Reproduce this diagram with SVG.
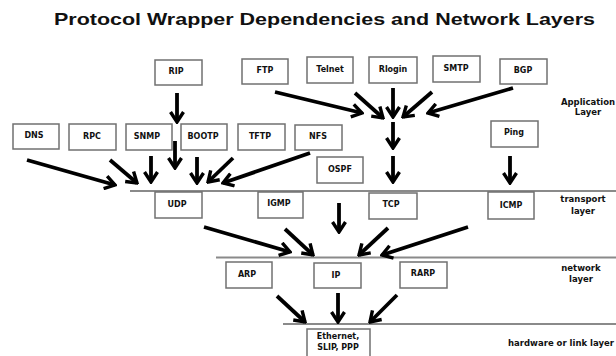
<svg xmlns="http://www.w3.org/2000/svg" width="616" height="356" viewBox="0 0 616 356">
<defs>
<style>
.b rect{fill:#fff;stroke:#707070;stroke-width:1.5}
.b text,.lbl{font-family:"DejaVu Sans","Liberation Sans",sans-serif;font-weight:bold;font-size:8px;fill:#111;text-anchor:middle}
.lbl{font-size:8.5px}
.lay{stroke:#8a8a8a;stroke-width:2}
.c line{stroke:#000;stroke-width:3.8;marker-end:url(#a)}
.t{font-family:"Liberation Sans",Arial,sans-serif;font-weight:bold;font-size:17px;fill:#111}
</style>
<marker id="a" markerUnits="userSpaceOnUse" viewBox="0 0 16 16" markerWidth="16" markerHeight="16" refX="14" refY="8" orient="auto">
<path d="M4,1.5 L14,8 L4,14.5" fill="none" stroke="#000" stroke-width="3.4"/>
</marker>
</defs>
<rect width="616" height="356" fill="#fff"/>
<text class="t" x="54" y="25" textLength="541" lengthAdjust="spacingAndGlyphs">Protocol Wrapper Dependencies and Network Layers</text>

<g id="layers">
<line class="lay" x1="130" y1="191" x2="616" y2="191"/>
<line class="lay" x1="216" y1="257.5" x2="616" y2="257.5"/>
<line class="lay" x1="283" y1="324" x2="616" y2="324"/>
<text class="lbl" x="588" y="105">Application</text>
<text class="lbl" x="588" y="115">Layer</text>
<text class="lbl" x="583" y="202">transport</text>
<text class="lbl" x="583" y="214">layer</text>
<text class="lbl" x="581" y="271">network</text>
<text class="lbl" x="581" y="282">layer</text>
<text class="lbl" x="561" y="346">hardware or link layer</text>
</g>

<g id="connectors" class="c">
<line x1="177" y1="93" x2="177" y2="122"/>
<line x1="175" y1="141" x2="175" y2="168"/>
<line x1="27" y1="160" x2="115" y2="185"/>
<line x1="110" y1="160" x2="137" y2="183"/>
<line x1="151" y1="156" x2="151" y2="182"/>
<line x1="197" y1="157" x2="197" y2="183"/>
<line x1="233" y1="158" x2="208" y2="182"/>
<line x1="310" y1="153" x2="223" y2="183"/>
<line x1="275" y1="92" x2="362" y2="113"/>
<line x1="355" y1="93" x2="383" y2="118"/>
<line x1="393" y1="88" x2="393" y2="117"/>
<line x1="432" y1="92" x2="403" y2="117"/>
<line x1="513" y1="88" x2="428" y2="113"/>
<line x1="393" y1="122" x2="393" y2="148"/>
<line x1="393" y1="156" x2="393" y2="182"/>
<line x1="510" y1="156" x2="510" y2="183"/>
<line x1="339" y1="203" x2="339" y2="232"/>
<line x1="204" y1="227" x2="290" y2="252"/>
<line x1="285" y1="229" x2="313" y2="255"/>
<line x1="388" y1="228" x2="359" y2="255"/>
<line x1="468" y1="227" x2="382" y2="255"/>
<line x1="277" y1="296" x2="305" y2="322"/>
<line x1="338" y1="293" x2="338" y2="322"/>
<line x1="397" y1="295" x2="370" y2="322"/>
</g>

<g id="RIP" class="b"><rect x="155" y="60" width="47" height="25"/><text x="176" y="74">RIP</text></g>
<g id="FTP" class="b"><rect x="242" y="59" width="46" height="25"/><text x="265" y="73">FTP</text></g>
<g id="Telnet" class="b"><rect x="307" y="57" width="46" height="26"/><text x="330" y="72">Telnet</text></g>
<g id="Rlogin" class="b"><rect x="369" y="57" width="48" height="26"/><text x="393" y="72">Rlogin</text></g>
<g id="SMTP" class="b"><rect x="433" y="56" width="47" height="26"/><text x="456" y="71">SMTP</text></g>
<g id="BGP" class="b"><rect x="500" y="59" width="47" height="25"/><text x="523" y="73">BGP</text></g>
<g id="DNS" class="b"><rect x="13" y="124" width="46" height="25"/><text x="34" y="138">DNS</text></g>
<g id="RPC" class="b"><rect x="69" y="124" width="47" height="26"/><text x="92" y="139">RPC</text></g>
<g id="SNMP" class="b"><rect x="126" y="124" width="46" height="26"/><text x="147" y="139">SNMP</text></g>
<g id="BOOTP" class="b"><rect x="181" y="124" width="46" height="26"/><text x="203" y="139">BOOTP</text></g>
<g id="TFTP" class="b"><rect x="238" y="124" width="47" height="26"/><text x="260" y="139">TFTP</text></g>
<g id="NFS" class="b"><rect x="295" y="125" width="47" height="25"/><text x="318" y="139">NFS</text></g>
<g id="Ping" class="b"><rect x="491" y="121" width="47" height="26"/><text x="514" y="135">Ping</text></g>
<g id="OSPF" class="b"><rect x="317" y="157" width="46" height="26"/><text x="340" y="172">OSPF</text></g>
<g id="UDP" class="b"><rect x="155" y="192" width="47" height="26"/><text x="177" y="207">UDP</text></g>
<g id="IGMP" class="b"><rect x="258" y="192" width="45" height="26"/><text x="279" y="206">IGMP</text></g>
<g id="TCP" class="b"><rect x="369" y="193" width="48" height="26"/><text x="391" y="207">TCP</text></g>
<g id="ICMP" class="b"><rect x="488" y="192" width="46" height="27"/><text x="511" y="208">ICMP</text></g>
<g id="ARP" class="b"><rect x="226" y="262" width="46" height="26"/><text x="247" y="277">ARP</text></g>
<g id="IP" class="b"><rect x="314" y="263" width="47" height="25"/><text x="336" y="278">IP</text></g>
<g id="RARP" class="b"><rect x="400" y="262" width="47" height="26"/><text x="423" y="276">RARP</text></g>
<g id="Ethernet" class="b"><rect x="307" y="329" width="63" height="32"/><text x="338" y="339">Ethernet,</text><text x="338" y="350">SLIP, PPP</text></g>
</svg>
